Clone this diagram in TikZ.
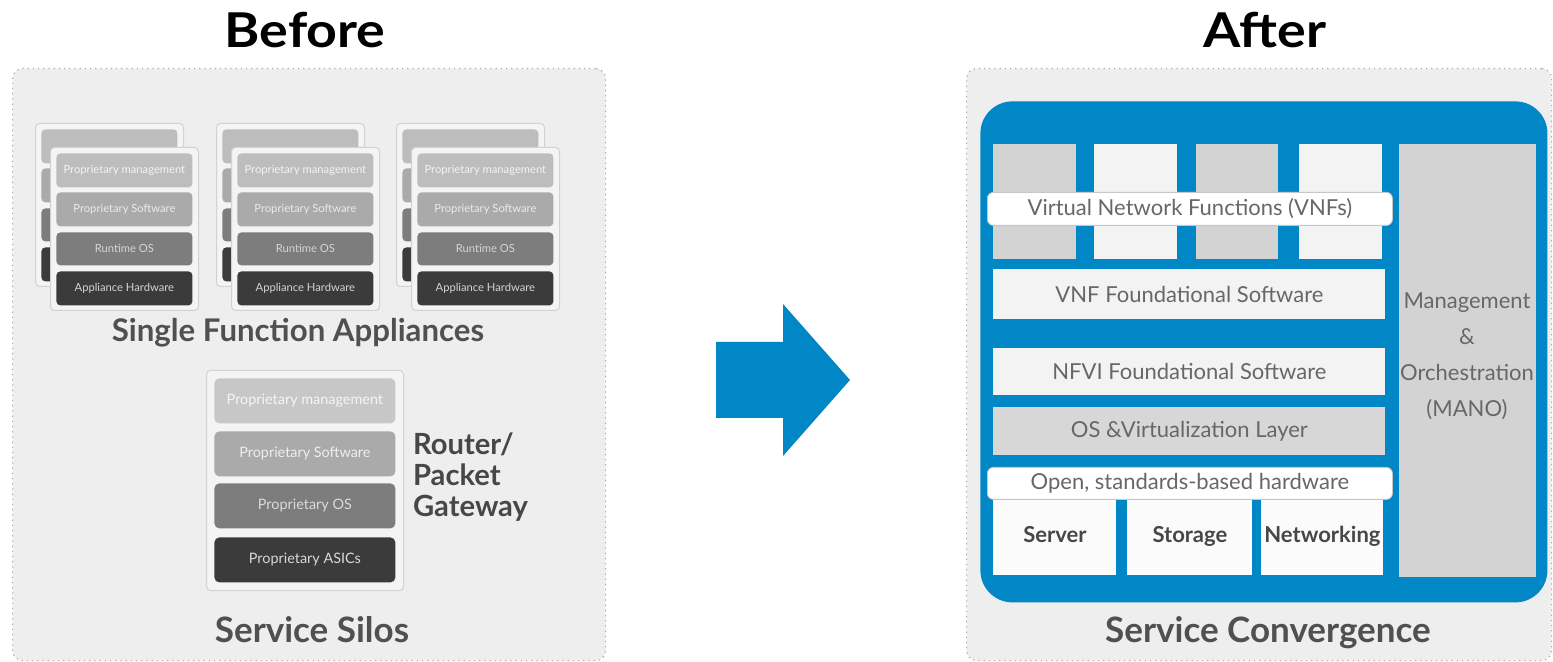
\documentclass[tikz,border=0pt]{standalone}
\usepackage{fontspec}
\setmainfont{Lato}
\newfontfamily\headfont[FakeStretch=1.12]{Lato}
\definecolor{framegray}{HTML}{ABABAB}
\definecolor{panelgray}{HTML}{EEEEEE}
\definecolor{dellblue}{HTML}{0287C6}
\definecolor{labelgray}{HTML}{505050}
\definecolor{textgray}{HTML}{676767}
\definecolor{boxgray}{HTML}{D3D3D3}
\definecolor{boxwhite}{HTML}{F3F3F3}
\definecolor{cardfill}{HTML}{F4F4F4}
\definecolor{cardline}{HTML}{D2D2D2}
\definecolor{mgmtgray}{HTML}{BDBDBD}
\definecolor{softgray}{HTML}{AAAAAA}
\definecolor{osgray}{HTML}{7D7D7D}
\definecolor{hwgray}{HTML}{3B3B3B}

% box given by its top-left and bottom-right corners (pixel units)
\newcommand\pbox[7][]{%
  \node[#1, anchor=north west, inner sep=0pt,
        minimum width={((#5)-(#3))*0.5pt},
        minimum height={((#6)-(#4))*0.5pt}] (#2) at (#3,#4) {#7};}

% one single-function appliance: a card with four layers
\newcommand\appcard[4]{% prefix, left, top, show text (1/0)
  \pbox[card]{#1card}{#2}{#3}{#2+148}{#3+163}{}
  \pbox[layer,fill=mgmtgray,text=white!82!mgmtgray]{#1mg}{#2+6}{#3+6}{#2+142}{#3+40}{\ifnum#4=1 Proprietary management\fi}
  \pbox[layer,fill=softgray,text=white!76!softgray]{#1sw}{#2+6}{#3+45}{#2+142}{#3+79}{\ifnum#4=1 Proprietary Software\fi}
  \pbox[layer,fill=osgray,text=white!68!osgray]{#1os}{#2+6}{#3+85}{#2+142}{#3+118}{\ifnum#4=1 Runtime OS\fi}
  \pbox[layer,fill=hwgray,text=white!78!hwgray]{#1hw}{#2+6}{#3+124}{#2+142}{#3+158}{\ifnum#4=1 Appliance Hardware\fi}}
\newcommand\appstack[2]{% prefix, left of front card
  \appcard{#1b}{#2-15}{123}{0}
  \appcard{#1f}{#2}{147}{1}}

\begin{document}
\begin{tikzpicture}[x=0.5pt,y=-0.5pt,
  panel/.style={draw=framegray, dotted, line width=0.6pt, fill=panelgray, rounded corners=5pt},
  title/.style={font=\headfont\bfseries\fontsize{24}{28}\selectfont, text=black},
  caption/.style={font=\bfseries\fontsize{17.5}{20}\selectfont, text=labelgray},
  card/.style={fill=cardfill, draw=cardline, line width=0.5pt, rounded corners=2pt},
  layer/.style={rounded corners=2pt, font=\fontsize{5.6}{6}\selectfont},
  rlayer/.style={rounded corners=2.5pt, font=\fontsize{7.2}{8}\selectfont},
  vbox/.style={font=\fontsize{11}{13}\selectfont, text=textgray},
  bar/.style={vbox, fill=white, draw=black!22, line width=0.4pt, rounded corners=3pt},
  hwbox/.style={fill=white!97!gray, font=\bfseries\fontsize{11}{13}\selectfont, text=black!72,
    text height=8pt, text depth=2.4pt},
  bigarrow/.style={fill=dellblue}]
\useasboundingbox (0,0) rectangle (1553,662);
\fill[white] (0,0) rectangle (1553,662);

% ---------- Before ----------
\node[title] (before) at (305,30) {Before};
\pbox[panel]{silos}{12}{68}{605}{660}{}

\appstack{a}{50}
\appstack{b}{231}
\appstack{c}{411}

\node[caption, font=\bfseries\fontsize{15.6}{18}\selectfont] (sfa) at (298,333) {Single Function Appliances};

\pbox[card]{rcard}{206}{370}{403}{590}{}
\pbox[rlayer,fill=mgmtgray!85!white,text=white!84!mgmtgray]{rmg}{214}{378}{395}{423}{Proprietary management}
\pbox[rlayer,fill=softgray,text=white!80!softgray]{rsw}{214}{431}{395}{476}{Proprietary Software}
\pbox[rlayer,fill=osgray,text=white!72!osgray]{ros}{214}{483}{395}{528}{Proprietary OS}
\pbox[rlayer,fill=hwgray,text=white!80!hwgray]{rhw}{214}{537}{395}{582}{Proprietary ASICs}

\node[caption, font=\bfseries\fontsize{14.6}{15.5}\selectfont, align=left, anchor=west, text=black!72]
  (router) at (406,477) {Router/\\Packet\\Gateway};

\node[caption] (silostext) at (312,630) {Service Silos};

% ---------- Arrow ----------
\fill[bigarrow] (716,342) coordinate (a1) -- (783,342) -- (783,304) -- (850,380) coordinate (tip)
  -- (783,456) -- (783,418) -- (716,418) -- cycle;

% ---------- After ----------
\node[title] (after) at (1265,30) {After};
\pbox[panel]{conv}{966}{68}{1551}{660}{}
\pbox[fill=dellblue, rounded corners=16pt]{frame}{980}{101}{1547}{602}{}

\pbox[fill=boxgray]{vnf1}{993}{144}{1076}{259}{}
\pbox[fill=boxwhite]{vnf2}{1094}{144}{1177}{259}{}
\pbox[fill=boxgray]{vnf3}{1196}{144}{1278}{259}{}
\pbox[fill=boxwhite]{vnf4}{1299}{144}{1382}{259}{}
\pbox[bar]{vnfbar}{987}{192}{1392}{225}{Virtual Network Functions (VNFs)}

\pbox[vbox,fill=boxwhite]{vnffs}{993}{269}{1385}{319}{VNF Foundational Software}
\pbox[vbox,fill=boxwhite]{nfvi}{993}{348}{1385}{395}{NFVI Foundational Software}
\pbox[vbox,fill=boxgray!90!white]{osv}{993}{407}{1385}{455}{OS \&Virtualization Layer}

\pbox[hwbox]{server}{993}{498}{1116}{575}{Server}
\pbox[hwbox]{storage}{1127}{498}{1252}{575}{Storage}
\pbox[hwbox]{netw}{1261}{498}{1383}{575}{Networking}
\pbox[bar]{hwbar}{987}{467}{1392}{499}{Open, standards-based hardware}

\pbox[fill=boxgray]{mano}{1399}{144}{1536}{577}{}
\node[vbox, align=center, font=\fontsize{11}{18}\selectfont] (manotext) at (1467,356)
  {Management\\\&\\Orchestration\\(MANO)};

\node[caption] (convtext) at (1268,633) {Service Convergence};
\end{tikzpicture}
\end{document}
